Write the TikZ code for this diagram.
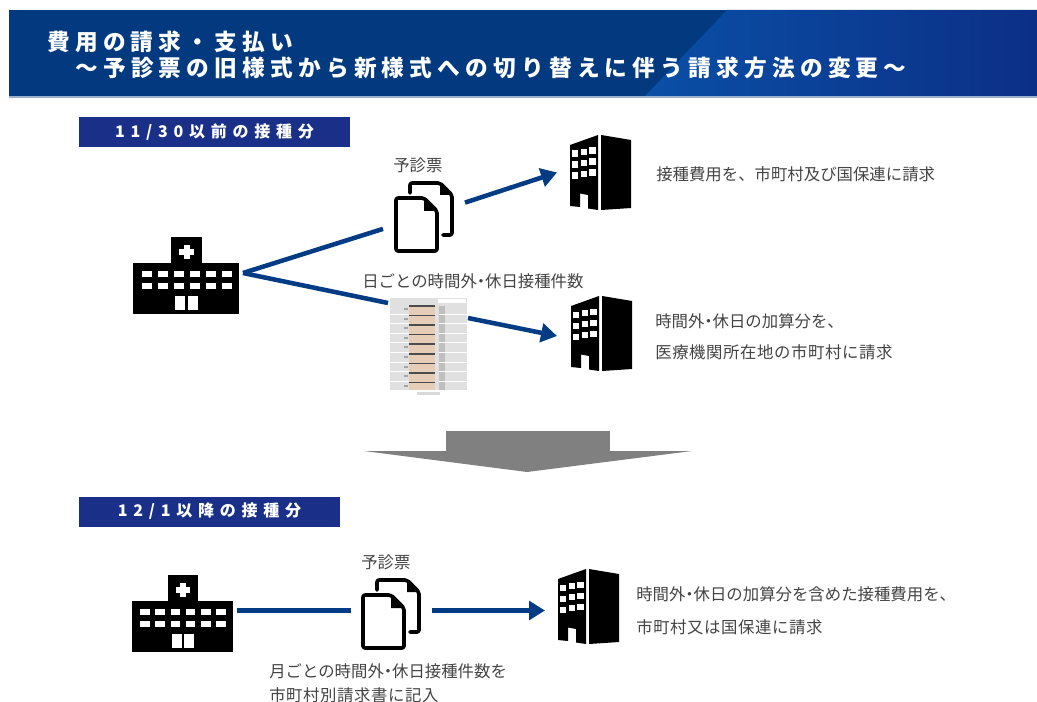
\documentclass[tikz,border=0pt]{standalone}
\usepackage{fontspec}
\usepackage{xcolor}
\usetikzlibrary{arrows.meta}
\setmainfont{Noto Sans CJK JP}
\newfontfamily\titlefont[LetterSpace=23]{Noto Sans CJK JP}
\newfontfamily\tagfont[LetterSpace=36]{Noto Sans CJK JP}
\newfontfamily\widefont[LetterSpace=3.6]{Noto Sans CJK JP}
\newcommand{\narrowdot}{\kern-.25em・\kern-.25em}
\definecolor{bandblue}{HTML}{03397F}
\definecolor{bandlight}{HTML}{0A4FA6}
\definecolor{bandright}{HTML}{0C2F86}
\definecolor{tagblue}{HTML}{1A3088}
\definecolor{linkblue}{HTML}{033C84}
\definecolor{bodygray}{HTML}{444444}
\definecolor{peach}{HTML}{E6CDB8}
\tikzset{
    icon-box/.style = {rectangle, inner sep=0pt, outer sep=0pt},
    tag-box/.style = {fill=tagblue, text=white, rectangle, inner sep=0pt, minimum height=22.5pt, font=\tagfont\bfseries\fontsize{12pt}{13pt}\selectfont},
    body-text/.style = {text=bodygray, inner sep=0pt, anchor=west, font=\fontsize{12.3pt}{13pt}\selectfont},
    body-wide/.style = {body-text, font=\widefont\fontsize{12.3pt}{13pt}\selectfont},
    title-text/.style = {text=white, inner sep=0pt, anchor=west, font=\titlefont\bfseries\fontsize{17pt}{18pt}\selectfont},
    link/.style = {draw=linkblue, line width=3.4pt},
    link-arrow/.style = {link, -{Triangle[length=12pt, width=14pt]}},
    hospital-icon/.pic = {
        \fill[black] (0,26) rectangle (106,77);
        \fill[black] (38,0) rectangle (69,26);
        \fill[white] (50.5,8) rectangle (56.5,22);
        \fill[white] (46,12) rectangle (61,18);
        \foreach \col in {0,...,5} {
            \foreach \row in {34,46} {
                \fill[white] ({8.5+16*\col},\row) rectangle ({18.5+16*\col},{\row+5.5});
            }
        }
        \fill[white] (42,59) rectangle (52,73);
        \fill[white] (55,59) rectangle (65,73);
    },
    building-icon/.pic = {
        \fill[black] (2,10) -- (30,0) -- (30,75) -- (20,73.5) -- (20,60) -- (12,58.5) -- (12,72) -- (2,71) -- cycle;
        \fill[black] (33,0) -- (63,5) -- (63,73) -- (33,75) -- cycle;
        \foreach \col/\dy in {0/1.5,1/0,2/-1.5} {
            \foreach \row in {14,25,36} {
                \fill[white] ({4+8.7*\col},{\row+\dy}) rectangle ({10.2+8.7*\col},{\row+\dy+6.2});
            }
        }
    },
    doc-icon/.pic = {
        \draw[black, line width=2.7pt, line join=round, line cap=round, rounded corners=1.5pt] (16,12) -- (16,2) -- (46,2) -- (58,14) -- (58,54) -- (49,54);
        \fill[black] (46,4) -- (46,14) -- (56,14) -- cycle;
        \draw[black, fill=white, line width=2.7pt, line join=round, rounded corners=1.5pt] (2,17) -- (30,17) -- (43,30) -- (43,70) -- (2,70) -- cycle;
        \fill[black] (30,19) -- (30,30) -- (41,30) -- cycle;
    },
    sheet-icon/.pic = {
        \fill[black!12] (0,0) rectangle (77,92);
        \fill[white] (48,1) rectangle (76,5);
        \fill[peach] (19,7) rectangle (45,92);
        \fill[black!25] (49,8) rectangle (55,92);
        \foreach \row in {0,...,8} {
            \fill[black!70] (19,{7+9.6*\row}) rectangle (45,{8.5+9.6*\row});
            \fill[white] (0,{15.5+9.6*\row}) rectangle (19,{16.2+9.6*\row});
            \fill[white] (49,{15.5+9.6*\row}) rectangle (77,{16.2+9.6*\row});
            \fill[black!35] (14,{10+9.6*\row}) rectangle (18,{12+9.6*\row});
        }
        \fill[black!15] (27,94) rectangle (50,97);
    },
}

\begin{document}
\begin{tikzpicture}[x=0.75pt, y=-0.75pt]
\useasboundingbox (0,0) rectangle (1037,702);

% header band
\fill[bandblue] (9,10) rectangle (1037,96);
\shade[left color=bandlight, right color=bandright] (727,10) -- (1037,10) -- (1037,96) -- (645,96) -- cycle;
\fill[bandblue!40] (9,96) rectangle (1037,98);
\node[title-text] (titleA) at (47,42) {費用の請求・支払い};
\node[title-text] (titleB) at (75,67.5) {～予診票の旧様式から新様式への切り替えに伴う請求方法の変更～};

% before 11/30
\node[tag-box, minimum width=203pt] (tagA) at (214.5,132) {11/30以前の接種分};
\node[icon-box, minimum width=85.5pt, minimum height=60pt] (hospA) at (186,273) {};
\pic at (133,237) {hospital-icon};
\node[icon-box, minimum width=61.5pt, minimum height=60pt] (docA) at (424,216) {};
\pic at (394,181) {doc-icon};
\node[icon-box, minimum width=57.75pt, minimum height=69pt] (tabA) at (428.5,344) {};
\pic at (390,298) {sheet-icon};
\node[icon-box, minimum width=57pt, minimum height=56.25pt] (bldA) at (595,172.5) {};
\pic at (568,135) {building-icon};
\node[icon-box, minimum width=57pt, minimum height=56.25pt] (bldB) at (595,336) {};
\pic at (569,296) {building-icon};
\coordinate (tabIn) at (388,303);
\coordinate (tabOut) at (468,318);

\draw[link] (hospA.east) -- (docA);
\draw[link] (hospA.east) -- (tabIn);
\draw[link-arrow] (docA) -- (bldA.west);
\draw[link-arrow] (tabOut) -- (bldB.west);

\node[body-text] (noteA) at (393,165) {予診票};
\node[body-text] (noteB) at (362,281) {日ごとの時間外\narrowdot 休日接種件数};
\node[body-text] (costA) at (656,174) {接種費用を、市町村及び国保連に請求};
\node[body-text] (costB) at (655,321) {時間外\narrowdot 休日の加算分を、};
\node[body-wide] (costC) at (655,352) {医療機関所在地の市町村に請求};

% big arrow
\fill[black!50] (446,431) rectangle (610,451);
\fill[black!50] (364,451) -- (692,451) -- (527,472) -- cycle;

% from 12/1
\node[tag-box, minimum width=195.75pt] (tagB) at (209.5,511.5) {12/1以降の接種分};
\node[icon-box, minimum width=78pt, minimum height=58pt] (hospC) at (185,610.5) {};
\pic[xscale=0.953] at (132,575) {hospital-icon};
\node[icon-box, minimum width=60.75pt, minimum height=58pt] (docC) at (391,610.5) {};
\pic at (361,578) {doc-icon};
\node[icon-box, minimum width=54.75pt, minimum height=58pt] (bldC) at (581.5,610.5) {};
\pic at (556,569) {building-icon};

\draw[link] (hospC) -- (docC);
\draw[link-arrow] (docC) -- (bldC.west);

\node[body-text] (noteC) at (361,562) {予診票};
\node[body-text] (noteD) at (269,671) {月ごとの時間外\narrowdot 休日接種件数を};
\node[body-wide] (noteE) at (269,695) {市町村別請求書に記入};
\node[body-text] (costD) at (636,594) {時間外\narrowdot 休日の加算分を含めた接種費用を、};
\node[body-wide] (costE) at (636,627) {市町村又は国保連に請求};
\end{tikzpicture}
\end{document}
